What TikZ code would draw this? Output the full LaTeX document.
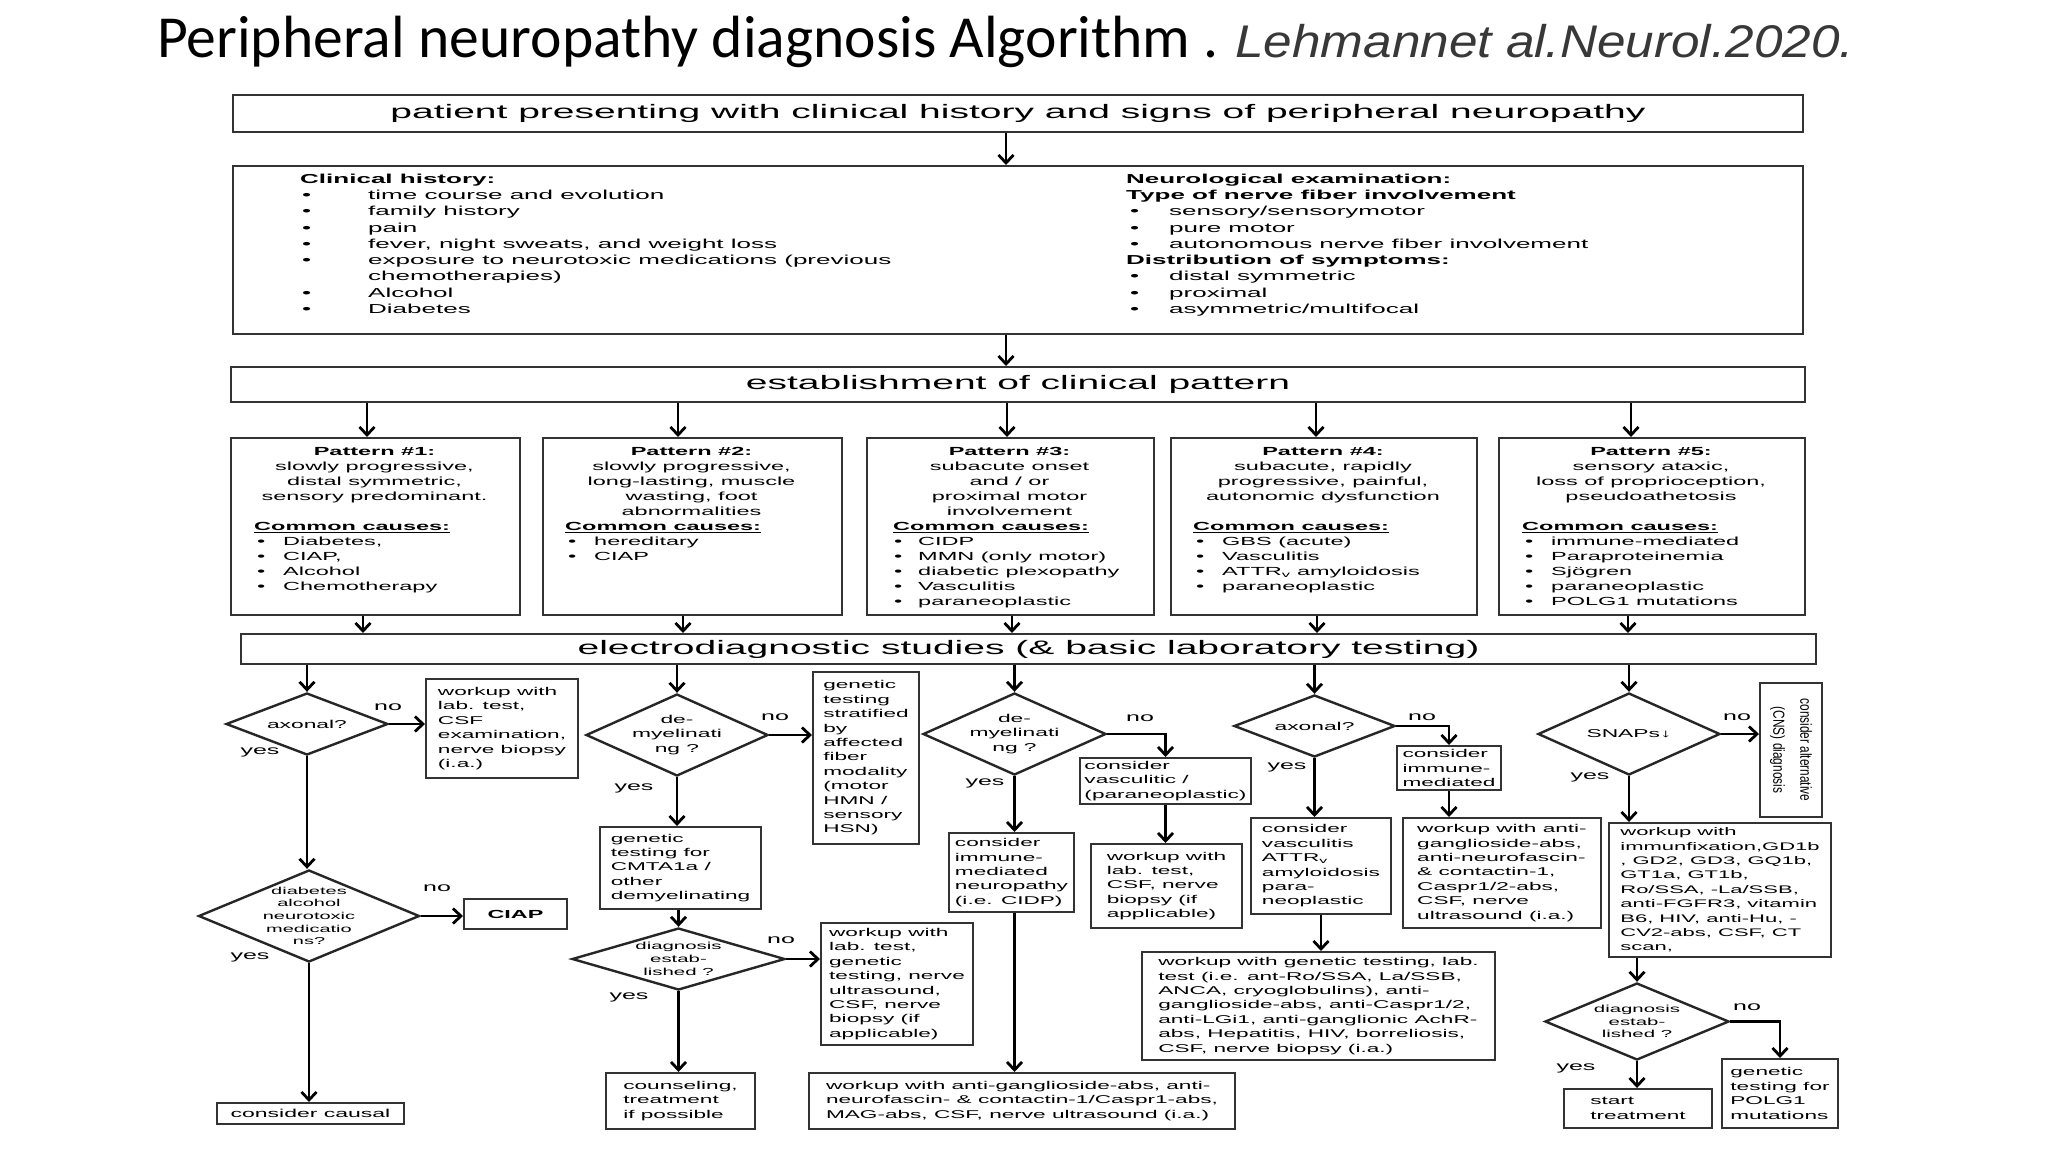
\documentclass[tikz,border=0pt]{standalone}
\usepackage{fontspec}
\setmainfont{Liberation Sans}
\newfontfamily\fS[FakeStretch=2.0]{Liberation Sans}
\newfontfamily\fN[FakeStretch=0.74]{Liberation Sans}
\newfontfamily\fI[FakeStretch=1.12]{Liberation Sans}
\newfontfamily\fT{Carlito}
\usetikzlibrary{shapes.geometric,arrows.meta,calc}
\newcommand\fz[2]{\fontsize{#1}{#2}\selectfont}
\newcommand\bul[2]{\hspace*{#1}\makebox[#2][l]{\textbullet}}
\begin{document}
\begin{tikzpicture}[x=1pt,y=-1pt,
 bx/.style={draw=black!80, line width=2pt, anchor=north west, inner xsep=3pt, inner ysep=2pt, align=left, font=\fS\fz{11.3}{14.4}},
 dia/.style={draw=black!85, line width=2.4pt, diamond, inner sep=0pt},
 dt/.style={align=center, inner sep=0pt, font=\fS\fz{11.4}{14.5}},
 lab/.style={inner sep=0pt, font=\fS\fz{12.5}{14}},
 arr/.style={line width=2.8pt, -{Straight Barb[length=8pt,width=15pt]}},
 ptxt/.style={inner sep=0pt, align=center, font=\fS\fz{11.75}{15}},
 btxt/.style={inner sep=0pt, align=left, anchor=north west, font=\fS\fz{13}{16.3}},
 bigbx/.style={draw=black!80, line width=2pt, anchor=north west, inner sep=0pt, font=\fS\fz{19.5}{22}},
]
\path[use as bounding box, fill=white] (0,0) rectangle (2048,1152);

% Title
\node[anchor=base west, inner sep=0pt, font=\fT\fz{59.6}{60}] (title) at (157,57) {Peripheral neuropathy diagnosis Algorithm .};
\node[anchor=base west, inner sep=0pt, text=black!78, font=\fI\itshape\fz{45.8}{46}] (cite) at (1235,57) {Lehmannet al.Neurol.2020.};

% Top boxes
\node[bigbx, minimum width=1570pt, minimum height=37pt] (top) at (232,94) {patient presenting with clinical history and signs of peripheral neuropathy};
\node[bx, minimum width=1570pt, minimum height=168pt] (hist) at (232,165) {};
\node[btxt] (histl) at (300,173.5) {\textbf{Clinical history:}\\
\bul{2pt}{66pt}time course and evolution\\
\bul{2pt}{66pt}family history\\
\bul{2pt}{66pt}pain\\
\bul{2pt}{66pt}fever, night sweats, and weight loss\\
\bul{2pt}{66pt}exposure to neurotoxic medications (previous\\
\hspace*{68pt}chemotherapies)\\
\bul{2pt}{66pt}Alcohol\\
\bul{2pt}{66pt}Diabetes};
\node[btxt] (histr) at (1126,173.5) {\textbf{Neurological examination:}\\
\textbf{Type of nerve fiber involvement}\\
\bul{4pt}{39pt}sensory/sensorymotor\\
\bul{4pt}{39pt}pure motor\\
\bul{4pt}{39pt}autonomous nerve fiber involvement\\
\textbf{Distribution of symptoms:}\\
\bul{4pt}{39pt}distal symmetric\\
\bul{4pt}{39pt}proximal\\
\bul{4pt}{39pt}asymmetric/multifocal};
\node[bigbx, minimum width=1574pt, minimum height=35pt] (clin) at (230,366) {establishment of clinical pattern};

% Pattern boxes
\node[bx, minimum width=289pt, minimum height=177pt] (p1) at (230,437) {};
\node[ptxt, anchor=north] (p1h) at (374.5,447.5) {\textbf{Pattern \#1:}\\slowly progressive,\\distal symmetric,\\sensory predominant.};
\node[ptxt, anchor=north west, align=left] (p1c) at (254,522.4) {\underline{\textbf{Common causes:}}\\\bul{3pt}{26pt}Diabetes,\\\bul{3pt}{26pt}CIAP,\\\bul{3pt}{26pt}Alcohol\\\bul{3pt}{26pt}Chemotherapy};

\node[bx, minimum width=299pt, minimum height=177pt] (p2) at (542,437) {};
\node[ptxt, anchor=north] (p2h) at (691.5,447.5) {\textbf{Pattern \#2:}\\slowly progressive,\\long-lasting, muscle\\wasting, foot\\abnormalities};
\node[ptxt, anchor=north west, align=left] (p2c) at (565,522.4) {\underline{\textbf{Common causes:}}\\\bul{3pt}{26pt}hereditary\\\bul{3pt}{26pt}CIAP};

\node[bx, minimum width=287pt, minimum height=177pt] (p3) at (866,437) {};
\node[ptxt, anchor=north] (p3h) at (1009.5,447.5) {\textbf{Pattern \#3:}\\subacute onset\\and / or\\proximal motor\\involvement};
\node[ptxt, anchor=north west, align=left] (p3c) at (893,522.4) {\underline{\textbf{Common causes:}}\\\bul{1pt}{24pt}CIDP\\\bul{1pt}{24pt}MMN (only motor)\\\bul{1pt}{24pt}diabetic plexopathy\\\bul{1pt}{24pt}Vasculitis\\\bul{1pt}{24pt}paraneoplastic};

\node[bx, minimum width=306pt, minimum height=177pt] (p4) at (1170,437) {};
\node[ptxt, anchor=north] (p4h) at (1323,447.5) {\textbf{Pattern \#4:}\\subacute, rapidly\\progressive, painful,\\autonomic dysfunction};
\node[ptxt, anchor=north west, align=left] (p4c) at (1193,522.4) {\underline{\textbf{Common causes:}}\\\bul{3pt}{26pt}GBS (acute)\\\bul{3pt}{26pt}Vasculitis\\\bul{3pt}{26pt}ATTR\textsubscript{v} amyloidosis\\\bul{3pt}{26pt}paraneoplastic};

\node[bx, minimum width=306pt, minimum height=177pt] (p5) at (1498,437) {};
\node[ptxt, anchor=north] (p5h) at (1651,447.5) {\textbf{Pattern \#5:}\\sensory ataxic,\\loss of proprioception,\\pseudoathetosis};
\node[ptxt, anchor=north west, align=left] (p5c) at (1522,522.4) {\underline{\textbf{Common causes:}}\\\bul{3pt}{26pt}immune-mediated\\\bul{3pt}{26pt}Paraproteinemia\\\bul{3pt}{26pt}Sjögren\\\bul{3pt}{26pt}paraneoplastic\\\bul{3pt}{26pt}POLG1 mutations};

\node[bigbx, minimum width=1575pt, minimum height=30pt] (eds) at (240,633) {electrodiagnostic studies (\& basic laboratory testing)};

% Column 1
\node[dia, minimum width=162pt, minimum height=62pt] (d1) at (307,724) {};
\node[dt] (d1t) at (d1) {axonal?};
\node[lab] (n1) at (388,707) {no};
\node[lab] (y1) at (260,752) {yes};
\node[bx, minimum width=152pt, minimum height=99pt] (b1) at (425,678) {workup with\\lab. test,\\CSF\\examination,\\nerve biopsy\\(i.a.)};
\node[dia, minimum width=221pt, minimum height=92pt] (d2) at (309,916) {};
\node[dt, font=\fS\fz{10}{12.7}] (d2t) at (d2) {diabetes\\alcohol\\neurotoxic\\medicatio\\ns?};
\node[lab] (n2) at (437,888) {no};
\node[lab] (y2) at (250,957) {yes};
\node[bx, minimum width=103pt, minimum height=30pt, align=center, font=\fS\bfseries\fz{11.7}{14}] (ciap) at (463,898) {CIAP};
\node[bx, minimum width=187pt, minimum height=21pt, align=center, font=\fS\fz{11.5}{13}] (cc) at (216,1102) {consider causal};

% Column 2
\node[dia, minimum width=182pt, minimum height=82pt] (d3) at (677,735) {};
\node[dt] (d3t) at (d3) {de-\\myelinati\\ng ?};
\node[lab] (n3) at (775,717) {no};
\node[lab] (y3) at (634,788) {yes};
\node[bx, minimum width=106pt, minimum height=172pt] (b3) at (812,671) {genetic\\testing\\stratified\\by\\affected\\fiber\\modality\\(motor\\HMN /\\sensory\\HSN)};
\node[bx, minimum width=161pt, minimum height=82pt] (b4) at (599,826) {genetic\\testing for\\CMTA1a /\\other\\demyelinating};
\node[dia, minimum width=213pt, minimum height=62pt] (d4) at (678.5,959) {};
\node[dt, font=\fS\fz{10.2}{12.8}] (d4t) at (d4) {diagnosis\\estab-\\lished ?};
\node[lab] (n4) at (781,940) {no};
\node[lab] (y4) at (629,997) {yes};
\node[bx, minimum width=152pt, minimum height=122pt] (b5) at (820,922) {workup with\\lab. test,\\genetic\\testing, nerve\\ultrasound,\\CSF, nerve\\biopsy (if\\applicable)};
\node[bx, minimum width=149pt, minimum height=56pt] (b6) at (605,1072) {counseling,\\treatment\\if possible};

% Column 3
\node[dia, minimum width=183pt, minimum height=82pt] (d5) at (1014.5,734) {};
\node[dt] (d5t) at (d5) {de-\\myelinati\\ng ?};
\node[lab] (n5) at (1140,718) {no};
\node[lab] (y5) at (985,783) {yes};
\node[bx, minimum width=171pt, minimum height=46pt] (b7) at (1079,757) {consider\\vasculitic /\\(paraneoplastic)};
\node[bx, minimum width=151pt, minimum height=84pt] (b8) at (1090,843) {workup with\\lab. test,\\CSF, nerve\\biopsy (if\\applicable)};
\node[bx, minimum width=125pt, minimum height=79pt] (b9) at (948,832) {consider\\immune-\\mediated\\neuropathy\\(i.e. CIDP)};
\node[bx, minimum width=426pt, minimum height=56pt] (b10) at (808,1072) {workup with anti-ganglioside-abs, anti-\\neurofascin- \& contactin-1/Caspr1-abs,\\MAG-abs, CSF, nerve ultrasound (i.a.)};

% Column 4
\node[dia, minimum width=161pt, minimum height=62pt] (d6) at (1314.5,726) {};
\node[dt] (d6t) at (d6) {axonal?};
\node[lab] (n6) at (1422,717) {no};
\node[lab] (y6) at (1287,767) {yes};
\node[bx, minimum width=104pt, minimum height=44pt] (b11) at (1396,745) {consider\\immune-\\mediated};
\node[bx, minimum width=198pt, minimum height=110pt] (b12) at (1402,817) {workup with anti-\\ganglioside-abs,\\anti-neurofascin-\\\& contactin-1,\\Caspr1/2-abs,\\CSF, nerve\\ultrasound (i.a.)};
\node[bx, minimum width=140pt, minimum height=96pt] (b13) at (1250,817) {consider\\vasculitis\\ATTR\textsubscript{v}\\amyloidosis\\para-\\neoplastic};
\node[bx, minimum width=353pt, minimum height=108pt] (b14) at (1141,951) {workup with genetic testing, lab.\\test (i.e. ant-Ro/SSA, La/SSB,\\ANCA, cryoglobulins), anti-\\ganglioside-abs, anti-Caspr1/2,\\anti-LGi1, anti-ganglionic AchR-\\abs, Hepatitis, HIV, borreliosis,\\CSF, nerve biopsy (i.a.)};

% Column 5
\node[dia, minimum width=182pt, minimum height=82pt] (d7) at (1629,734) {};
\node[dt] (d7t) at (d7) {SNAPs↓};
\node[lab] (n7) at (1737,717) {no};
\node[lab] (y7) at (1590,777) {yes};
\node[draw=black!80, line width=2pt, rotate=-90, minimum width=134pt, minimum height=62pt, inner sep=0pt, align=center, font=\fN\fz{16}{27}] (alt) at (1791,750) {consider alternative\\(CNS) diagnosis};
\node[bx, minimum width=222pt, minimum height=134pt, font=\fS\fz{11}{14.4}] (b16) at (1608,822) {workup with\\immunfixation,GD1b\\, GD2, GD3, GQ1b,\\GT1a, GT1b,\\Ro/SSA, -La/SSB,\\anti-FGFR3, vitamin\\B6, HIV, anti-Hu, -\\CV2-abs, CSF, CT\\scan,};
\node[dia, minimum width=184pt, minimum height=77pt] (d8) at (1637,1021.5) {};
\node[dt, font=\fS\fz{10.2}{12.8}] (d8t) at (d8) {diagnosis\\estab-\\lished ?};
\node[lab] (n8) at (1747,1007) {no};
\node[lab] (y8) at (1576,1068) {yes};
\node[bx, minimum width=116pt, minimum height=69pt] (b17) at (1721,1058) {genetic\\testing for\\POLG1\\mutations};
\node[bx, minimum width=148pt, minimum height=39pt] (b18) at (1563,1088) {start\\treatment};

% Connectors
\coordinate (xa) at (1006,0);
\draw[arr] (xa |- top.south) -- (xa |- hist.north);
\draw[arr] (xa |- hist.south) -- (xa |- clin.north);
\foreach \xx/\p [count=\i] in {367/p1,678/p2,1007/p3,1316/p4,1631/p5} {
  \coordinate (ta\i) at (\xx,0);
  \draw[arr] (ta\i |- clin.south) -- (ta\i |- \p.north);
}
\foreach \xx/\p [count=\i] in {363/p1,683/p2,1012/p3,1317/p4,1628/p5} {
  \coordinate (tb\i) at (\xx,0);
  \draw[arr] (tb\i |- \p.south) -- (tb\i |- eds.north);
}
\foreach \d in {d1,d3,d5,d6,d7} \draw[arr] (\d.north |- eds.south) -- (\d.north);

\draw[arr] (d1.east) -- (d1.east -| b1.west);
\draw[arr] (d1.south) -- (d1.south |- d2.north);
\draw[arr] (d2.east) -- (d2.east -| ciap.west);
\draw[arr] (d2.south) -- (d2.south |- cc.north);

\draw[arr] (d3.east) -- (d3.east -| b3.west);
\draw[arr] (d3.south) -- (d3.south |- b4.north);
\draw[arr] (d4.north |- b4.south) -- (d4.north);
\draw[arr] (d4.east) -- (d4.east -| b5.west);
\draw[arr] (d4.south) -- (d4.south |- b6.north);

\draw[arr] (d5.east) -| (b7.north);
\draw[arr] (b7.south) -- (b7.south |- b8.north);
\draw[arr] (d5.south) -- (d5.south |- b9.north);
\draw[arr] (d5.south |- b9.south) -- (d5.south |- b10.north);

\draw[arr] (d6.east) -| (b11.north);
\draw[arr] (b11.south) -- (b11.south |- b12.north);
\draw[arr] (d6.south) -- (d6.south |- b13.north);
\draw[arr] (b13.south) -- (b13.south |- b14.north);

\draw[arr] (d7.east) -- (d7.east -| alt.south);
\draw[arr] (d7.south) -- (d7.south |- b16.north);
\draw[arr] (d8.north |- b16.south) -- (d8.north);
\draw[arr] (d8.east) -| (b17.north);
\draw[arr] (d8.south) -- (d8.south |- b18.north);
\end{tikzpicture}
\end{document}
